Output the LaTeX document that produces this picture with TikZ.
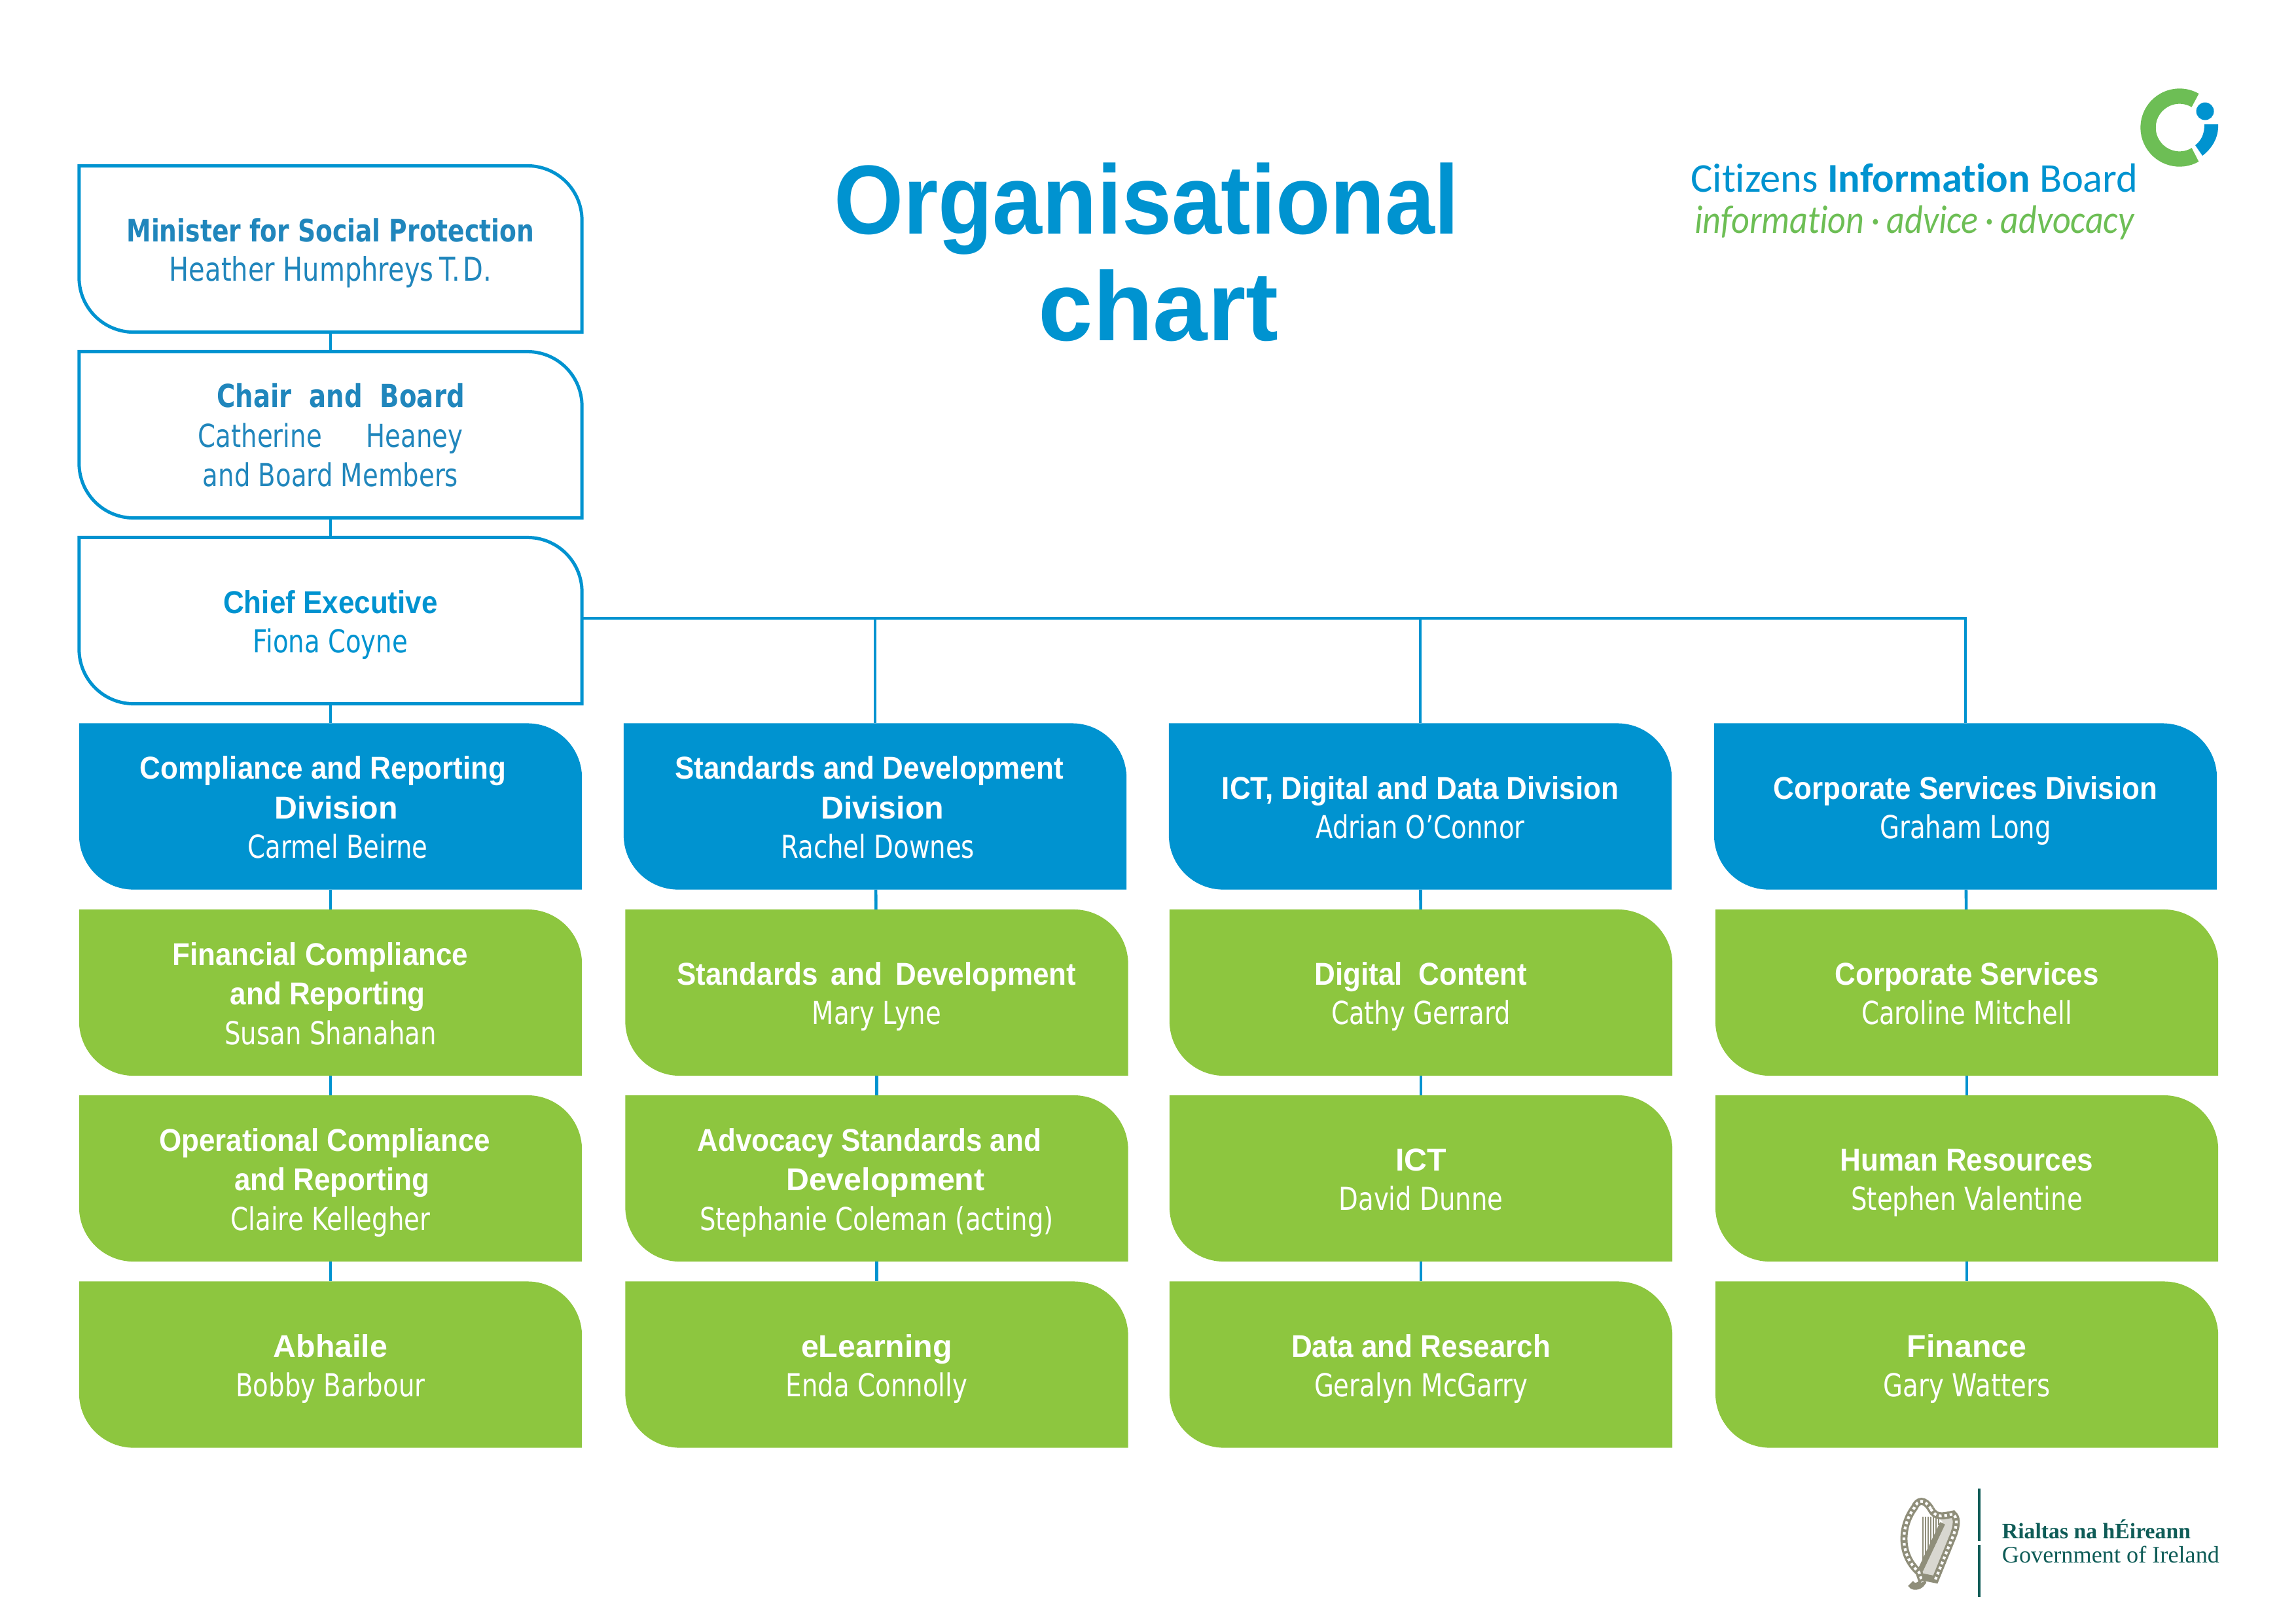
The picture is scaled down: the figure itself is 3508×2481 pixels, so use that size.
\documentclass[tikz,border=0pt]{standalone}
\usepackage{fontspec}
\usepackage{tikz}
\usetikzlibrary{backgrounds}
\setmainfont{DejaVu Sans}[FakeStretch=0.8]
\newfontfamily\OCnarrow{Liberation Sans}[FakeStretch=0.91]
\newfontfamily\OCarial{Liberation Sans}
\newfontfamily\OCtitle{Liberation Sans}[FakeStretch=0.91]
\newfontfamily\OCcarlito{Carlito}[Ligatures=NoCommon]
\newfontfamily\OCmotto{Carlito}[Ligatures=NoCommon,FakeStretch=0.89]
\newfontfamily\OCserif{Liberation Serif}
\definecolor{CIblue}{HTML}{0093D0}
\definecolor{CIdark}{HTML}{2086BC}
\definecolor{CIgreen}{HTML}{8DC63F}
\definecolor{CIleaf}{HTML}{6DBE55}
\definecolor{GOVteal}{HTML}{0F5C57}
\definecolor{GOVharp}{HTML}{8F8E7A}
\tikzset{
  outlinebox/.style={draw=CIblue,line width=1.2pt,fill=white},
  bluebox/.style={fill=CIblue},
  greenbox/.style={fill=CIgreen},
  outlinetext/.style={text=CIdark},
  bluetext/.style={text=white},
  greentext/.style={text=white},
  Lien/.style={draw=CIblue,line width=1.1pt},
  Perle/.style={draw=GOVharp,line width=2.6pt},
  Grain/.style={draw=white,line width=1pt,dash pattern=on 1pt off 1pt}
}
\newcommand{\OCname}{\fontsize{11.6}{14.5}\selectfont}
\newcommand{\OChead}[1]{{\OCnarrow\bfseries #1}}
\newcommand{\OCwide}[1]{{\OCarial\bfseries #1}}
\newcommand{\OCbold}[1]{{\bfseries #1}}
\newcommand{\OCbox}[5]{
        \node[#2text,inner sep=0pt,align=center,minimum width=184pt,minimum height=60.6pt,font=\OCname] (#1) at (#3,#4) {\rule{0pt}{13.35pt}#5\rule[-4.35pt]{0pt}{0pt}};
        \begin{pgfonlayer}{background}
        \path[#2box] (#1.north west) [rounded corners=20pt] -- (#1.north east) [sharp corners] -- (#1.south east) [rounded corners=20pt] -- (#1.south west) [sharp corners] -- cycle;
        \end{pgfonlayer}
}

\begin{document}
\begin{tikzpicture}[x=0.24pt,y=-0.24pt]
        \useasboundingbox (0,0) rectangle (3508,2481);
        % top of the chart
        \OCbox{Mini}{outline}{505}{380.5}{\OCbold{\fontsize{11.3}{14.5}\selectfont Minister for Social Protection}\\{\fontsize{12}{14.5}\selectfont Heather Humphreys\,T.\kern1pt D.}}
        \OCbox{Chai}{outline}{505}{664.5}{\hspace*{7.5pt}\OCbold{Chair\ \ and\ \ Board}\\Catherine\hspace{1.4em}Heaney\\and\ Board Members}
        \OCbox{Chie}{outline}{505}{948.5}{\color{CIblue}\OChead{Chief Executive}\\\color{CIblue}Fiona Coyne}
        % divisions
        \OCbox{DivC}{blue}{505}{1232.5}{\hspace*{-5.4pt}\OChead{Compliance\ and\ Reporting}\\\hspace*{4.3pt}\OCwide{Division}\\\hspace*{5.4pt}Carmel Beirne}
        \OCbox{DivS}{blue}{1337}{1232.5}{\hspace*{-4.3pt}\OChead{Standards and Development}\\\hspace*{5.4pt}\OCwide{Division}\\\hspace*{2pt}Rachel Downes}
        \OCbox{DivI}{blue}{2170}{1232.5}{\OChead{ICT, Digital and Data Division}\\Adrian O’Connor}
        \OCbox{DivO}{blue}{3003}{1232.5}{\OChead{Corporate\ Services\ Division}\\Graham Long}
        % first column
        \OCbox{Fina}{green}{505}{1517}{\hspace*{-7.5pt}\OChead{Financial Compliance}\\\hspace*{-2pt}\OChead{and Reporting}\\Susan Shanahan}
        \OCbox{Oper}{green}{505}{1801}{\hspace*{-4.3pt}\OChead{Operational Compliance}\\\hspace*{1pt}\OChead{and Reporting}\\Claire Kellegher}
        \OCbox{Abha}{green}{505}{2085.5}{\OCwide{Abhaile}\\Bobby Barbour}
        % second column
        \OCbox{Stan}{green}{1339.5}{1517}{\OChead{Standards\,\ and\,\ Development}\\Mary Lyne}
        \OCbox{Advo}{green}{1339.5}{1801}{\hspace*{-5.4pt}\OChead{Advocacy Standards and}\\\hspace*{6.4pt}\OCwide{Development}\\Stephanie\ Coleman\ (acting)}
        \OCbox{Lear}{green}{1339.5}{2085.5}{\OCwide{eLearning}\\Enda Connolly}
        % third column
        \OCbox{Digi}{green}{2171}{1517}{\OChead{Digital\ \ Content}\\Cathy Gerrard}
        \OCbox{Ictt}{green}{2171}{1801}{\OCwide{ICT}\\David Dunne}
        \OCbox{Data}{green}{2171}{2085.5}{\OChead{Data and Research}\\Geralyn McGarry}
        % fourth column
        \OCbox{Corp}{green}{3005}{1517}{\OChead{Corporate\ Services}\\Caroline Mitchell}
        \OCbox{Huma}{green}{3005}{1801}{\OChead{Human Resources}\\Stephen Valentine}
        \OCbox{Fnce}{green}{3005}{2085.5}{\OCwide{Finance}\\Gary Watters}
        % connectors
        \coordinate (Bus) at (890,945);
        \draw[Lien] (Mini) edge (Chai) (Chai) edge (Chie) (Chie) edge (DivC);
        \draw[Lien] (DivC) edge (Fina) (Fina) edge (Oper) (Oper) edge (Abha);
        \draw[Lien] (DivS) edge (Stan) (Stan) edge (Advo) (Advo) edge (Lear);
        \draw[Lien] (DivI) edge (Digi) (Digi) edge (Ictt) (Ictt) edge (Data);
        \draw[Lien] (DivO) edge (Corp) (Corp) edge (Huma) (Huma) edge (Fnce);
        \draw[Lien] (Bus) -| (DivO.north);
        \draw[Lien] (DivS.north) |- (Bus);
        \draw[Lien] (DivI.north) |- (Bus);
        % title
        \node[inner sep=0pt,text=CIblue,font=\OCtitle\bfseries\fontsize{36}{38}\selectfont] (Titl) at (1752,319) {Organisational};
        \node[inner sep=0pt,text=CIblue,font=\OCarial\bfseries\fontsize{36}{38}\selectfont] (Char) at (1770,467) {chart};
        % logo of the board
        \node[inner sep=0pt,text=CIblue,font=\OCcarlito\fontsize{15}{18}\selectfont] (Cibo) at (2925,272) {Citizens \textbf{Information} Board};
        \node[inner sep=0pt,text=CIleaf,font=\OCmotto\itshape\fontsize{14.6}{18}\selectfont] (Moto) at (2925,340) {information\,·\,advice\,·\,advocacy};
        \draw[CIleaf,line width=5.6pt] (3330,195) ++(60:48) arc[start angle=60,end angle=300,radius=48];
        \fill[CIblue] (3369,170) circle[radius=13.5];
        \fill[CIblue] (3368,190) -- (3389,190) .. controls (3390,212) and (3378,228) .. (3365,238) -- (3354,222) .. controls (3364,214) and (3368,204) .. cycle;
        % logo of the government
        \path[fill=GOVharp!35] (2950,2306) .. controls (2958,2322) and (2972,2316) .. (2984,2314) .. controls (2991,2320) and (2990,2330) .. (2985,2345) -- (2957,2414) -- (2937,2410) -- (2934,2400) -- (2968,2326) -- cycle;
        \foreach \OCx/\OCy in {2938/2392,2942/2383,2946/2373,2950/2362,2954/2352,2958/2342,2962/2331}
          \draw[GOVharp,line width=.35pt] (\OCx,2318) -- (\OCx,\OCy);
        \draw[Perle] (2950,2306) .. controls (2940,2290) and (2930,2292) .. (2925,2304) .. controls (2905,2330) and (2900,2375) .. (2932,2403) -- (2937,2418) .. controls (2932,2426) and (2922,2426) .. (2919,2420);
        \draw[Grain] (2950,2306) .. controls (2940,2290) and (2930,2292) .. (2925,2304) .. controls (2905,2330) and (2900,2375) .. (2932,2403) -- (2937,2418);
        \draw[Perle] (2950,2306) .. controls (2958,2322) and (2972,2316) .. (2984,2314) .. controls (2991,2320) and (2990,2330) .. (2985,2345) -- (2957,2414) -- (2937,2410);
        \draw[Grain] (2950,2306) .. controls (2958,2322) and (2972,2316) .. (2984,2314) .. controls (2991,2320) and (2990,2330) .. (2985,2345) -- (2957,2414);
        \draw[GOVharp,line width=2pt] (2968,2328) -- (2934,2400);
        \node[inner sep=0pt] (Lign) at (3024,2358) {};
        \draw[GOVteal,line width=.8pt] (3024,2275) -- (Lign) -- (3024,2441);
        \node[inner sep=0pt,anchor=west,text=GOVteal,font=\OCserif\bfseries\fontsize{8.1}{10}\selectfont] (Rial) at (3058,2337) {Rialtas na hÉireann};
        \node[inner sep=0pt,anchor=west,text=GOVteal,font=\OCserif\fontsize{8.7}{10}\selectfont] (Gove) at (3058,2376) {Government of Ireland};
      \end{tikzpicture}
\end{document}
